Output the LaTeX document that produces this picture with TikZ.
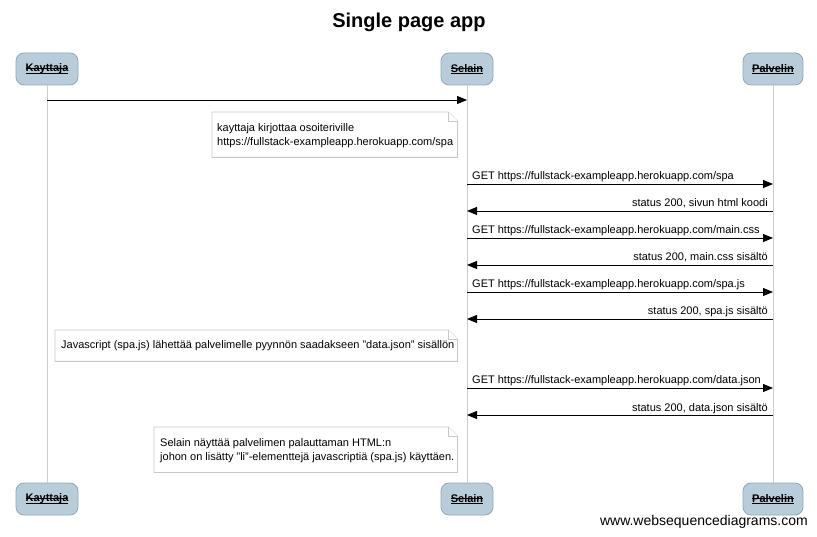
\documentclass[tikz,border=0pt]{standalone}
\usepackage{fontspec}
\setmainfont{Liberation Sans}
\usetikzlibrary{arrows.meta}
\definecolor{boxfill}{HTML}{B9CCDA}
\definecolor{boxline}{HTML}{8FA8BC}
\definecolor{lifeline}{HTML}{CCCCCC}
\definecolor{noteline}{HTML}{C8C8C8}
\newlength\plen
\newcommand\plabel[1]{\settowidth\plen{#1}\rlap{\rule[-1.7pt]{\plen}{0.7pt}}\rlap{\rule[3.0pt]{\plen}{0.7pt}}#1}
\tikzset{
  part/.style={draw=boxline, fill=boxfill, rounded corners=8pt, minimum height=32pt, inner xsep=8pt, font=\fontsize{11}{13}\selectfont\bfseries, line width=0.8pt},
  life/.style={draw=lifeline, line width=0.8pt},
  msg/.style={draw=black, line width=0.9pt, -{Triangle[length=10pt,width=8pt]}},
  lbl/.style={inner sep=0pt, font=\fontsize{11}{13}\selectfont},
  notebox/.style={draw=none, inner sep=0pt},
  noteline/.style={draw=noteline, fill=white, line width=0.8pt},
  notetext/.style={inner sep=0pt, align=left, font=\fontsize{11}{14}\selectfont, anchor=west}
}
\begin{document}
\begin{tikzpicture}[x=1pt,y=-1pt]
\useasboundingbox[fill=white] (0,0) rectangle (817,537);
\node[font=\fontsize{20}{24}\selectfont\bfseries] (title) at (409,22) {Single page app};
% participants
\node[part, minimum width=62pt] (kt) at (47,69) {\plabel{Kayttaja}};
\node[part, minimum width=52pt] (st) at (467,69) {\plabel{Selain}};
\node[part, minimum width=60pt] (pt) at (773,69) {\plabel{Palvelin}};
\node[part, minimum width=62pt] (kb) at (47,499) {\plabel{Kayttaja}};
\node[part, minimum width=52pt] (sb) at (467,499) {\plabel{Selain}};
\node[part, minimum width=60pt] (pb) at (773,499) {\plabel{Palvelin}};
\draw[life] (kt) -- (kb);
\draw[life] (st) -- (sb);
\draw[life] (pt) -- (pb);
% message end points
\foreach \n/\y in {0/100,1/184,2/211,3/238,4/265,5/292,6/319,7/388,8/415}{
  \coordinate (k\n) at (47,\y);
  \coordinate (s\n) at (467,\y);
  \coordinate (p\n) at (773,\y);
}
\draw[msg] (k0) -- (s0);
% note 1
\node[notebox, minimum width=245pt, minimum height=45pt, anchor=north west] (n1) at (212,112) {};
\draw[noteline] (n1.south west) -- (n1.south east) -- ([yshift=-9pt]n1.north east) -- ([xshift=-9pt]n1.north east) -- (n1.north west) -- cycle;
\draw[noteline] ([xshift=-9pt]n1.north east) -- ([xshift=-9pt,yshift=-9pt]n1.north east) -- ([yshift=-9pt]n1.north east);
\node[notetext] (t1) at ([xshift=5pt,yshift=-1pt]n1.west) {kayttaja kirjottaa osoiteriville\\https://fullstack-exampleapp.herokuapp.com/spa};
% messages
\draw[msg] (s1) -- (p1);
\node[lbl, anchor=base west] (l1) at (472,180) {GET https://fullstack-exampleapp.herokuapp.com/spa};
\draw[msg] (p2) -- (s2);
\node[lbl, anchor=base east] (l2) at (768,207) {status 200, sivun html koodi};
\draw[msg] (s3) -- (p3);
\node[lbl, anchor=base west] (l3) at (472,234) {GET https://fullstack-exampleapp.herokuapp.com/main.css};
\draw[msg] (p4) -- (s4);
\node[lbl, anchor=base east] (l4) at (768,261) {status 200, main.css sisältö};
\draw[msg] (s5) -- (p5);
\node[lbl, anchor=base west] (l5) at (472,288) {GET https://fullstack-exampleapp.herokuapp.com/spa.js};
\draw[msg] (p6) -- (s6);
\node[lbl, anchor=base east] (l6) at (768,315) {status 200, spa.js sisältö};
% note 2
\node[notebox, minimum width=402pt, minimum height=31pt, anchor=north west] (n2) at (55,330) {};
\draw[noteline] (n2.south west) -- (n2.south east) -- ([yshift=-9pt]n2.north east) -- ([xshift=-9pt]n2.north east) -- (n2.north west) -- cycle;
\draw[noteline] ([xshift=-9pt]n2.north east) -- ([xshift=-9pt,yshift=-9pt]n2.north east) -- ([yshift=-9pt]n2.north east);
\node[notetext] (t2) at ([xshift=6pt]n2.west) {Javascript (spa.js) lähettää palvelimelle pyynnön saadakseen "data.json" sisällön};
\draw[msg] (s7) -- (p7);
\node[lbl, anchor=base west] (l7) at (472,384) {GET https://fullstack-exampleapp.herokuapp.com/data.json};
\draw[msg] (p8) -- (s8);
\node[lbl, anchor=base east] (l8) at (768,411) {status 200, data.json sisältö};
% note 3
\node[notebox, minimum width=303pt, minimum height=45pt, anchor=north west] (n3) at (154,427) {};
\draw[noteline] (n3.south west) -- (n3.south east) -- ([yshift=-9pt]n3.north east) -- ([xshift=-9pt]n3.north east) -- (n3.north west) -- cycle;
\draw[noteline] ([xshift=-9pt]n3.north east) -- ([xshift=-9pt,yshift=-9pt]n3.north east) -- ([yshift=-9pt]n3.north east);
\node[notetext] (t3) at ([xshift=6pt,yshift=-1pt]n3.west) {Selain näyttää palvelimen palauttaman HTML:n\\johon on lisätty "li"-elementtejä javascriptiä (spa.js) käyttäen.};
% footer
\node[inner sep=0pt, anchor=east, font=\fontsize{14}{16}\selectfont] (foot) at (808,522) {www.websequencediagrams.com};
\end{tikzpicture}
\end{document}
